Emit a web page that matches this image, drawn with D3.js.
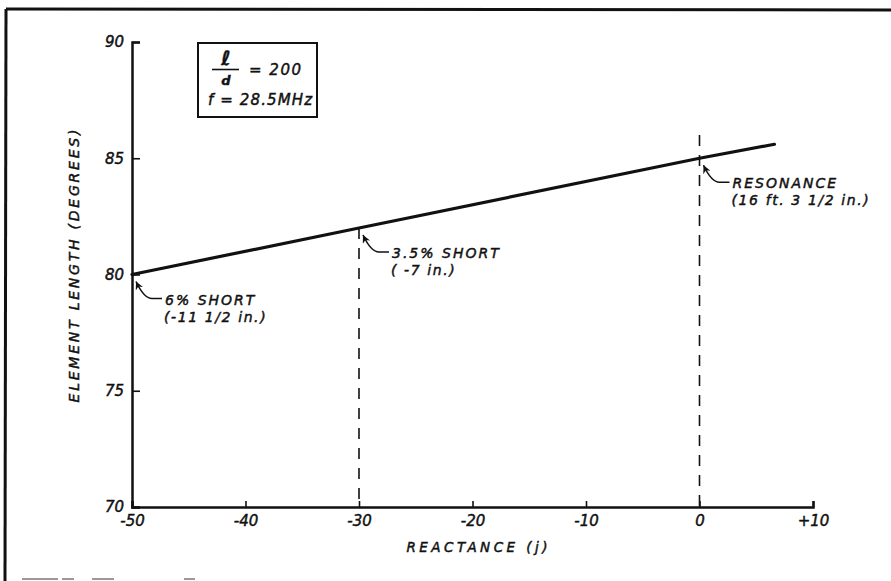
<!DOCTYPE html>
<html>
<head>
<meta charset="utf-8">
<script src="https://cdn.jsdelivr.net/npm/d3@7"></script>
<style>
  body { margin: 0; background: #fff; }
  text { font-family: "DejaVu Sans", sans-serif; font-style: italic; fill: #111; stroke: #111; stroke-width: 0.45px; }
</style>
</head>
<body>
<div id="chart"></div>
<script>
// data
var reactance = [-50, -30, 0, 6.6];
var elemLength = [80, 82, 85, 85.6];
var xMajor = [-50, -40, -30, -20, -10, 0, 10];
var yMajor = [70, 75, 80, 85, 90];
var dropX = [-30, 0];
var dropTop = [82, 86];
var noteX = [-50, -30, 0];
var noteY = [80, 82, 85];
var noteLine1 = ["6% SHORT", "3.5% SHORT", "RESONANCE"];
var noteLine2 = ["(-11 1/2 in.)", "( -7 in.)", "(16 ft. 3 1/2 in.)"];

var w = 891, h = 581;
var ink = "#111";

var svg = d3.select("#chart").append("svg").attr("width", w).attr("height", h);

svg.append("defs").append("marker")
  .attr("id", "arrow")
  .attr("viewBox", "0 0 10 10")
  .attr("refX", 10).attr("refY", 5)
  .attr("markerWidth", 11).attr("markerHeight", 8)
  .attr("markerUnits", "userSpaceOnUse")
  .attr("orient", "auto-start-reverse")
  .append("path").attr("d", "M10,5 L0,0 L3,5 L0,10 Z").attr("fill", ink);

// page frame
svg.append("line").attr("x1", 6).attr("y1", 9).attr("x2", w).attr("y2", 10)
  .attr("stroke", ink).attr("stroke-width", 3);
svg.append("line").attr("x1", 6).attr("y1", 9).attr("x2", 5).attr("y2", h)
  .attr("stroke", ink).attr("stroke-width", 3);
svg.append("line").attr("x1", 22).attr("y1", 579).attr("x2", 195).attr("y2", 579)
  .attr("stroke", "#999").attr("stroke-width", 2).attr("stroke-dasharray", "36 4 12 18 22 70 12");

var x = d3.scaleLinear().domain([-50, 10]).range([132, 813]);
var y = d3.scaleLinear().domain([70, 90]).range([507, 42]);

var fmtX = (d) => (d > 0 ? "+" + d : d < 0 ? "-" + Math.abs(d) : "0");

function styleAxis(g) {
  g.attr("font-family", null).attr("font-size", null);
  g.selectAll("path.domain").attr("stroke", ink).attr("stroke-width", 2.5);
  g.selectAll(".tick line").attr("stroke", ink).attr("stroke-width", 1.6);
  g.selectAll("text").attr("font-size", 15).attr("fill", ink).style("font-style", "italic");
}

// x axis
var xAxis = svg.append("g").attr("transform", "translate(0," + y(70) + ")");
xAxis.call(d3.axisBottom(x).tickValues(d3.range(-50, 11, 2)).tickSize(-6).tickFormat(""));
xAxis.call(d3.axisBottom(x).tickValues(xMajor).tickSize(-6).tickPadding(8).tickFormat(fmtX));
styleAxis(xAxis);

// y axis
var yAxis = svg.append("g").attr("transform", "translate(" + x(-50) + ",0)");
yAxis.call(d3.axisLeft(y).tickValues(d3.range(70, 91, 1)).tickSize(-8).tickFormat(""));
yAxis.call(d3.axisLeft(y).tickValues(yMajor).tickSize(-8).tickPadding(8).tickFormat((d) => d));
styleAxis(yAxis);

// axis titles
svg.append("text")
  .attr("x", 477).attr("y", 552)
  .attr("text-anchor", "middle")
  .attr("font-size", 13.5)
  .attr("textLength", 141).attr("lengthAdjust", "spacing")
  .text("REACTANCE (j)");

svg.append("text")
  .attr("transform", "translate(79,266) rotate(-90)")
  .attr("text-anchor", "middle")
  .attr("font-size", 14)
  .attr("textLength", 273).attr("lengthAdjust", "spacing")
  .text("ELEMENT LENGTH (DEGREES)");

// dashed drop lines
svg.append("g").selectAll("line").data(dropX).join("line")
  .attr("x1", (d) => x(d)).attr("x2", (d) => x(d))
  .attr("y1", (d, i) => y(dropTop[i])).attr("y2", y(70))
  .attr("stroke", ink).attr("stroke-width", 1.6)
  .attr("stroke-dasharray", "11 9");

// main curve
var line = d3.line().x((d) => x(d[0])).y((d) => y(d[1]));
svg.append("path")
  .datum(d3.zip(reactance, elemLength))
  .attr("d", line)
  .attr("fill", "none").attr("stroke", ink).attr("stroke-width", 3.2)
  .attr("stroke-linecap", "round");

// callouts
var notes = svg.append("g").selectAll("g").data(noteX).join("g")
  .attr("transform", (d, i) => "translate(" + x(d) + "," + y(noteY[i]) + ")");
notes.append("path")
  .attr("d", "M4,7 Q12,24 20,24 L30,24")
  .attr("fill", "none").attr("stroke", ink).attr("stroke-width", 1.6)
  .attr("marker-start", "url(#arrow)");
notes.append("text").attr("x", 33).attr("y", 30)
  .attr("font-size", 14).attr("letter-spacing", 2)
  .text((d, i) => noteLine1[i]);
notes.append("text").attr("x", 32).attr("y", 47)
  .attr("font-size", 14).attr("letter-spacing", 1.6)
  .text((d, i) => noteLine2[i]);

// parameter box
var box = svg.append("g");
box.append("rect").attr("x", 198).attr("y", 43).attr("width", 119).attr("height", 74)
  .attr("fill", "none").attr("stroke", ink).attr("stroke-width", 2);
box.append("text").attr("x", 226).attr("y", 65).attr("text-anchor", "middle")
  .attr("font-size", 20).attr("font-weight", "bold").text("ℓ");
box.append("line").attr("x1", 212).attr("x2", 239).attr("y1", 69.5).attr("y2", 69.5)
  .attr("stroke", ink).attr("stroke-width", 1.6);
box.append("text").attr("x", 226).attr("y", 85).attr("text-anchor", "middle")
  .attr("font-size", 13).attr("font-weight", "bold").text("d");
box.append("text").attr("x", 249).attr("y", 75)
  .attr("font-size", 15).attr("letter-spacing", 1.5).text("= 200");
box.append("text").attr("x", 208).attr("y", 105)
  .attr("font-size", 15).attr("textLength", 104).attr("lengthAdjust", "spacing")
  .text("f = 28.5MHz");
</script>
</body>
</html>
